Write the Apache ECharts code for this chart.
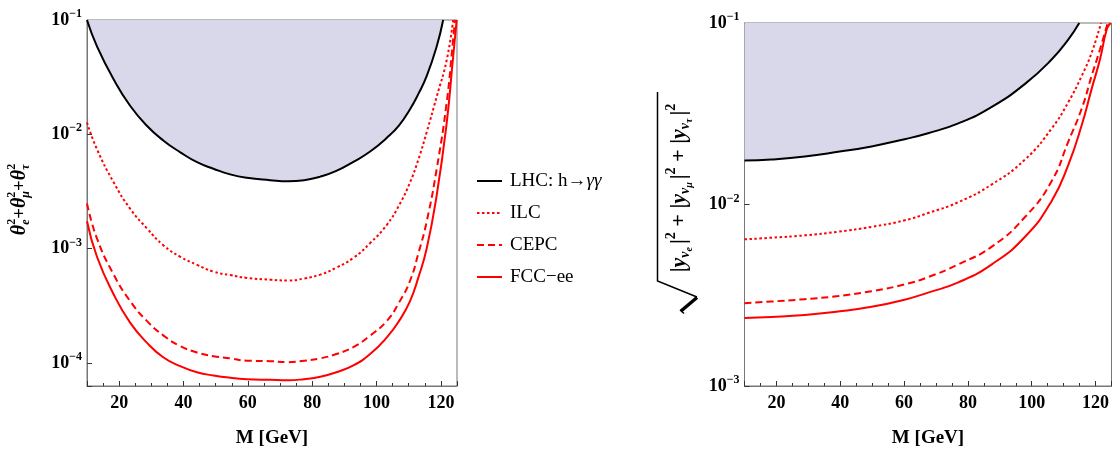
<!DOCTYPE html>
<html><head><meta charset="utf-8">
<script src="https://cdn.jsdelivr.net/npm/echarts@6/dist/echarts.min.js"></script>
<style>html,body{margin:0;padding:0;background:#fff}#c{width:1115px;height:453px}</style>
</head><body><div id="c"></div>
<script>
// ---------- data ----------
const seriesNames = ['LHC: h\u2192\u03b3\u03b3', 'ILC', 'CEPC', 'FCC\u2212ee'];
const xTickLabels = [20, 40, 60, 80, 100, 120];

// left panel: theta_e^2 + theta_mu^2 + theta_tau^2 vs M [GeV]
const lhcL_M = [10, 13.1, 18.3, 23.4, 28.6, 33.8, 39, 44.2, 49.3, 54.5, 59.7, 66.9, 72.5, 77.5, 82.5, 87.5, 92.8, 98, 103.2, 107, 110.4, 113, 115.6, 118.7, 120.7];
const lhcL_V = [0.1, 0.0589, 0.0302, 0.0178, 0.0119, 0.00881, 0.00697, 0.00571, 0.00501, 0.00447, 0.00417, 0.00398, 0.00389, 0.00398, 0.00427, 0.00479, 0.00575, 0.00708, 0.00933, 0.0120, 0.0166, 0.0226, 0.0324, 0.0589, 0.1];
const ilcL_M = [10, 13.1, 18.3, 23.4, 28.6, 33.8, 39, 44.2, 49.3, 54.5, 59.7, 66.9, 72.5, 77.5, 82.5, 87.5, 92.8, 98, 103.2, 107, 110.4, 113, 115.6, 118.7, 121.8, 123.8];
const ilcL_V = [0.0127, 0.00741, 0.00380, 0.00224, 0.00151, 0.00107, 0.000851, 0.000724, 0.000631, 0.000589, 0.000556, 0.000537, 0.000527, 0.000550, 0.000594, 0.000684, 0.000832, 0.00112, 0.00162, 0.00240, 0.00380, 0.00603, 0.0105, 0.0214, 0.0447, 0.1];
const cepcL_M = [10, 13.1, 18.3, 23.4, 28.6, 33.8, 39, 44.2, 49.3, 54.5, 59.7, 66.9, 72.5, 77.5, 82.5, 87.5, 92.8, 98, 103.2, 107, 110.4, 113, 115.6, 118.7, 121.8, 123.7, 124.4];
const cepcL_V = [0.00249, 0.00123, 0.000594, 0.000349, 0.000234, 0.000174, 0.000141, 0.000124, 0.000115, 0.000110, 0.000105, 0.000104, 0.000102, 0.000105, 0.000110, 0.000120, 0.000138, 0.000174, 0.000234, 0.000339, 0.000525, 0.000912, 0.00174, 0.00501, 0.0191, 0.0631, 0.1];
const fccL_M = [10, 13.1, 18.3, 23.4, 28.6, 33.8, 39, 44.2, 49.3, 54.5, 59.7, 66.9, 72.5, 77.5, 82.5, 87.5, 92.8, 98, 103.2, 107, 110.4, 113, 115.6, 118.7, 121.8, 123.7, 124.9];
const fccL_V = [0.00174, 0.000851, 0.000398, 0.000226, 0.000151, 0.000112, 0.0000940, 0.0000832, 0.0000780, 0.0000745, 0.0000724, 0.0000714, 0.0000708, 0.0000724, 0.0000759, 0.0000832, 0.0000955, 0.000120, 0.000168, 0.000234, 0.000349, 0.000562, 0.00101, 0.00295, 0.0126, 0.0447, 0.1];

// right panel: sqrt(|y_nu_e|^2+|y_nu_mu|^2+|y_nu_tau|^2) vs M [GeV]
const lhcR_M = [10, 18.4, 28.9, 39.3, 49.8, 60.2, 67.5, 77, 87.5, 97.9, 106.3, 111.5, 114.9];
const lhcR_V = [0.01746, 0.0177, 0.01837, 0.0195, 0.0209, 0.0229, 0.0247, 0.0280, 0.0345, 0.0462, 0.0631, 0.0813, 0.1];
const ilcR_M = [10, 18.4, 28.9, 39.3, 49.8, 60.2, 67.5, 77, 87.5, 97.9, 106.3, 111.5, 115.7, 118.8, 121.7];
const ilcR_V = [0.00643, 0.00656, 0.00676, 0.00708, 0.00753, 0.00818, 0.00897, 0.0103, 0.0129, 0.0177, 0.0263, 0.0367, 0.0513, 0.0687, 0.1];
const cepcR_M = [10, 18.4, 28.9, 39.3, 49.8, 60.2, 67.5, 77, 87.5, 97.9, 106.3, 111.5, 115.7, 118.8, 121.4, 123.8];
const cepcR_V = [0.00286, 0.00292, 0.00301, 0.00313, 0.00333, 0.00363, 0.00398, 0.00468, 0.00586, 0.00853, 0.0135, 0.0223, 0.0339, 0.0513, 0.0716, 0.1];
const fccR_M = [10, 18.4, 28.9, 39.3, 49.8, 60.2, 67.5, 77, 87.5, 97.9, 106.3, 111.5, 115.7, 118.8, 121.4, 123.5, 124.7];
const fccR_V = [0.00237, 0.00240, 0.00246, 0.00257, 0.00273, 0.00299, 0.00327, 0.00372, 0.00468, 0.00664, 0.0105, 0.0166, 0.0275, 0.0435, 0.0631, 0.092, 0.1];

// ---------- chart ----------
const SERIF = '"Liberation Serif", "DejaVu Serif", serif';
const pairs = (m, v) => m.map((x, i) => [x, v[i]]);

const ctx = document.createElement('canvas').getContext('2d');
function fontStr(p) { return (p.italic ? 'italic ' : '') + 'bold ' + p.size + 'px ' + SERIF; }
function measure(p) { ctx.font = fontStr(p); return ctx.measureText(p.t).width; }
function buildRun(items) {
  let x = 0; const out = [];
  for (const it of items) {
    if (it.gap) { x += it.gap; continue; }
    const parts = it.stack || [it];
    let adv = 0;
    for (const p of parts) {
      const w = measure(p);
      out.push({ type: 'text', x: x, y: p.dy || 0, silent: true,
        style: { text: p.t, font: fontStr(p), fill: '#000', align: 'left', verticalAlign: 'middle', textAlign: 'left', textVerticalAlign: 'middle' } });
      adv = Math.max(adv, w);
    }
    x += adv;
  }
  out.forEach(o => { o.x -= x / 2; });
  return out;
}
const leftTitle = [
  { t: '\u03b8', size: 20, italic: true },
  { stack: [{ t: '2', size: 12, dy: -8 }, { t: 'e', size: 12, italic: true, dy: 6 }] },
  { t: '+', size: 19 },
  { t: '\u03b8', size: 20, italic: true },
  { stack: [{ t: '2', size: 12, dy: -8 }, { t: '\u03bc', size: 12, italic: true, dy: 6 }] },
  { t: '+', size: 19 },
  { t: '\u03b8', size: 20, italic: true },
  { stack: [{ t: '2', size: 12, dy: -8 }, { t: '\u03c4', size: 12, italic: true, dy: 6 }] }
];
function term(sub) {
  return [
    { t: '|', size: 22 }, { t: 'y', size: 22, italic: true },
    { t: '\u03bd', size: 14, italic: true, dy: 6 }, { t: sub, size: 10, italic: true, dy: 10 },
    { gap: 3 }, { t: '|', size: 22 }, { t: '2', size: 14, dy: -8 }
  ];
}
const rightTitle = [].concat(term('e'), [{ t: ' + ', size: 22 }], term('\u03bc'), [{ t: ' + ', size: 22 }], term('\u03c4'));

const tickColor = '#333', frameColor = '#777';
function xAxisMain(gi) {
  return {
    gridIndex: gi, type: 'value', min: 10, max: 125, position: 'bottom',
    axisLine: { show: true, lineStyle: { color: frameColor, width: 1 } },
    axisTick: { show: true, inside: true, length: 5, lineStyle: { color: tickColor } },
    axisLabel: { margin: 8, fontFamily: SERIF, fontWeight: 'bold', fontSize: 18, color: '#000',
      formatter: v => (xTickLabels.indexOf(v) >= 0 ? String(v) : '') },
    splitLine: { show: false },
    name: 'M [GeV]', nameLocation: 'middle', nameGap: 43,
    nameTextStyle: { fontFamily: SERIF, fontWeight: 'bold', fontSize: 19, color: '#000' }
  };
}
function xAxisMinor(gi) {
  return {
    gridIndex: gi, type: 'value', min: 10, max: 125, interval: 5, position: 'bottom',
    axisLine: { show: false },
    axisTick: { show: true, inside: true, length: 3, lineStyle: { color: tickColor } },
    axisLabel: { show: false }, splitLine: { show: false }
  };
}
function yAxisLog(gi, min) {
  return {
    gridIndex: gi, type: 'log', logBase: 10, min: min, max: 0.1,
    axisLine: { show: true, lineStyle: { color: frameColor, width: 1 } },
    axisTick: { show: true, inside: true, length: 5, lineStyle: { color: tickColor } },
    splitLine: { show: false }, minorTick: { show: false },
    axisLabel: {
      margin: 5,
      formatter: v => {
        const e = Math.log10(v), r = Math.round(e);
        if (Math.abs(e - r) > 1e-6) return '';
        return '{b|10}{s|\u2212' + Math.abs(r) + '}';
      },
      rich: {
        b: { fontFamily: SERIF, fontWeight: 'bold', fontSize: 18, color: '#000', lineHeight: 24, verticalAlign: 'middle' },
        s: { fontFamily: SERIF, fontWeight: 'bold', fontSize: 12, color: '#000', lineHeight: 12, verticalAlign: 'top' }
      }
    }
  };
}
function lineSeries(name, gi, data, type, color, area) {
  const s = {
    name: name, type: 'line', xAxisIndex: gi * 2, yAxisIndex: gi, data: data,
    symbol: 'none', showSymbol: false, smooth: 0.5, clip: true,
    lineStyle: { color: color, width: 2, type: type }, itemStyle: { color: color },
    z: area ? 2 : 3
  };
  if (area) s.areaStyle = { origin: 'end', color: '#d8d8ea', opacity: 1 };
  return s;
}

const chart = echarts.init(document.getElementById('c'), null, { renderer: 'canvas' });
chart.setOption({
  animation: false,
  backgroundColor: '#fff',
  grid: [
    { left: 87, top: 20, width: 370, height: 369, show: true, borderColor: frameColor, borderWidth: 1, containLabel: false },
    { left: 744.5, top: 23, width: 367, height: 368, show: true, borderColor: frameColor, borderWidth: 1, containLabel: false }
  ],
  xAxis: [xAxisMain(0), xAxisMinor(0), xAxisMain(1), xAxisMinor(1)],
  yAxis: [yAxisLog(0, Math.pow(10, -4.2)), yAxisLog(1, 0.001)],
  legend: {
    orient: 'vertical', left: 471, top: 165, itemWidth: 25, itemHeight: 14, itemGap: 10,
    selectedMode: false, data: seriesNames,
    itemStyle: { opacity: 0 },
    textStyle: { fontFamily: SERIF, fontSize: 19, color: '#000', lineHeight: 22, padding: [0, 0, 0, 3],
      rich: { n: { fontFamily: SERIF, fontSize: 19, color: '#000' }, i: { fontFamily: SERIF, fontSize: 19, fontStyle: 'italic', color: '#000' } } },
    formatter: n => (n === seriesNames[0] ? '{n|LHC: h\u2192}{i|\u03b3\u03b3}' : n)
  },
  series: [
    lineSeries(seriesNames[0], 0, pairs(lhcL_M, lhcL_V), 'solid', '#000', true),
    lineSeries(seriesNames[1], 0, pairs(ilcL_M, ilcL_V), [2.5, 2.5], '#ff0000'),
    lineSeries(seriesNames[2], 0, pairs(cepcL_M, cepcL_V), [7, 4], '#ff0000'),
    lineSeries(seriesNames[3], 0, pairs(fccL_M, fccL_V), 'solid', '#ff0000'),
    lineSeries(seriesNames[0], 1, pairs(lhcR_M, lhcR_V), 'solid', '#000', true),
    lineSeries(seriesNames[1], 1, pairs(ilcR_M, ilcR_V), [2.5, 2.5], '#ff0000'),
    lineSeries(seriesNames[2], 1, pairs(cepcR_M, cepcR_V), [7, 4], '#ff0000'),
    lineSeries(seriesNames[3], 1, pairs(fccR_M, fccR_V), 'solid', '#ff0000')
  ],
  graphic: [
    { type: 'group', x: 20, y: 199.5, rotation: Math.PI / 2, children: buildRun(leftTitle) },
    { type: 'group', x: 679, y: 188, rotation: Math.PI / 2, children: buildRun(rightTitle) },
    { type: 'polyline', silent: true, shape: { points: [[657.5, 92], [657.5, 281], [697, 297]] }, style: { stroke: '#000', lineWidth: 1.5, fill: null } },
    { type: 'polyline', silent: true, shape: { points: [[697, 297.5], [681, 311]] }, style: { stroke: '#000', lineWidth: 3.5, fill: null } },
    { type: 'polyline', silent: true, shape: { points: [[680, 310], [684, 313.5]] }, style: { stroke: '#000', lineWidth: 1.5, fill: null } }
  ]
});
</script></body></html>
